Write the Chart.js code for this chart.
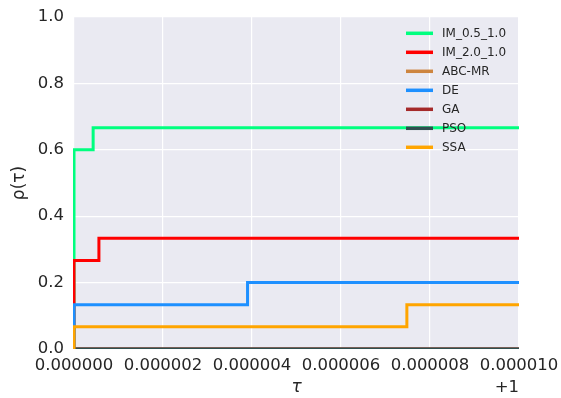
<!DOCTYPE html>
<html>
<head>
<meta charset="utf-8">
<script src="https://cdn.jsdelivr.net/npm/chart.js@4"></script>
<style>
  html, body { margin: 0; padding: 0; background: #ffffff; }
  #wrap { width: 561px; height: 398px; }
</style>
</head>
<body>
<div id="wrap"><canvas id="profileChart" width="561" height="398"></canvas></div>
<script>
// performance profile, x is tau - 1
const seriesNames = ["IM_0.5_1.0", "IM_2.0_1.0", "ABC-MR", "DE", "GA", "PSO", "SSA"];
const seriesColors = ["#00FF7F", "#FF0000", "#CD853F", "#1E90FF", "#A52A2A", "#2F4F4F", "#FFA500"];

const im05X = [0, 0, 0, 0.00000043, 0.00001];
const im05Y = [0, 0.5333, 0.6, 0.6667, 0.6667];
const im20X = [0, 0, 0.00000056, 0.00001];
const im20Y = [0, 0.2667, 0.3333, 0.3333];
const abcX = [0, 0.00001];
const abcY = [0, 0];
const deX = [0, 0, 0.0000039, 0.00001];
const deY = [0, 0.1333, 0.2, 0.2];
const gaX = [0, 0.00001];
const gaY = [0, 0];
const psoX = [0, 0.00001];
const psoY = [0, 0];
const ssaX = [0, 0, 0.00000748, 0.00001];
const ssaY = [0, 0.0667, 0.1333, 0.1333];

const xTicks = [0, 0.000002, 0.000004, 0.000006, 0.000008, 0.00001];
const yTicks = [0, 0.2, 0.4, 0.6, 0.8, 1.0];

const allX = [im05X, im20X, abcX, deX, gaX, psoX, ssaX];
const allY = [im05Y, im20Y, abcY, deY, gaY, psoY, ssaY];

const textColor = "#262626";
const FONT = "'DejaVu Sans', sans-serif";

function toPoints(xs, ys) {
  const pts = [];
  for (let i = 0; i < xs.length; i++) pts.push({ x: xs[i], y: ys[i] });
  return pts;
}

const datasets = seriesNames.map(function (name, i) {
  return {
    label: name,
    data: toPoints(allX[i], allY[i]),
    borderColor: seriesColors[i],
    backgroundColor: seriesColors[i],
    borderWidth: 3,
    pointRadius: 0,
    stepped: true,
    fill: false,
    clip: { left: 1, top: 0, right: 0, bottom: 0 },
    order: seriesNames.length - i, // later series on top, like matplotlib
  };
});

// area background + legend + offset text
const decorPlugin = {
  id: "decor",
  beforeDraw(chart) {
    const a = chart.chartArea;
    const ctx = chart.ctx;
    ctx.save();
    ctx.fillStyle = "#EAEAF2";
    ctx.fillRect(a.left, a.top, a.right - a.left, a.bottom - a.top);
    ctx.restore();
  },
  afterDraw(chart) {
    const a = chart.chartArea;
    const ctx = chart.ctx;
    ctx.save();
    // legend
    ctx.font = "12px " + FONT;
    ctx.textBaseline = "middle";
    ctx.textAlign = "left";
    for (let i = 0; i < seriesNames.length; i++) {
      const y = 33.3 + i * 19;
      ctx.strokeStyle = seriesColors[i];
      ctx.lineWidth = 3.5;
      ctx.lineCap = "butt";
      ctx.beginPath();
      ctx.moveTo(406, y);
      ctx.lineTo(433, y);
      ctx.stroke();
      ctx.fillStyle = textColor;
      ctx.fillText(seriesNames[i], 442, y + 0.5);
    }
    // offset label
    ctx.font = "16.5px " + FONT;
    ctx.textAlign = "right";
    ctx.fillText("+1", a.right, 388);
    ctx.restore();
  },
};

const chart = new Chart(document.getElementById("profileChart"), {
  type: "line",
  data: { datasets: datasets },
  options: {
    responsive: false,
    animation: false,
    events: [],
    layout: { padding: { left: 0, right: 42, top: 17, bottom: 0 } },
    plugins: { legend: { display: false }, tooltip: { enabled: false } },
    scales: {
      x: {
        type: "linear",
        min: 0,
        max: 0.00001,
        afterBuildTicks(scale) {
          scale.ticks = xTicks.map(function (v) { return { value: v }; });
        },
        afterFit(scale) {
          scale.height = 49;
          scale.paddingLeft = 0;
          scale.paddingRight = 0;
        },
        ticks: {
          color: textColor,
          font: { family: FONT, size: 16.5 },
          padding: 7,
          maxRotation: 0,
          autoSkip: false,
          callback: function (v) { return Number(v).toFixed(6); },
        },
        grid: { color: "#ffffff", lineWidth: 1.2, drawTicks: false },
        border: { display: false },
        title: {
          display: true,
          text: "τ",
          color: textColor,
          font: { family: FONT, size: 17, style: "italic" },
          padding: { top: 0, bottom: 0 },
        },
      },
      y: {
        min: 0,
        max: 1,
        afterBuildTicks(scale) {
          scale.ticks = yTicks.map(function (v) { return { value: v }; });
        },
        afterFit(scale) {
          scale.width = 74;
          scale.paddingTop = 0;
          scale.paddingBottom = 0;
        },
        ticks: {
          color: textColor,
          font: { family: FONT, size: 16.5 },
          padding: 10,
          callback: function (v) { return Number(v).toFixed(1); },
        },
        grid: { color: "#ffffff", lineWidth: 1.2, drawTicks: false },
        border: { display: false },
        title: {
          display: true,
          text: "ρ(τ)",
          color: textColor,
          font: { family: FONT, size: 17 },
          padding: { top: 9, bottom: 0 },
        },
      },
    },
  },
  plugins: [decorPlugin],
});
</script>
</body>
</html>
